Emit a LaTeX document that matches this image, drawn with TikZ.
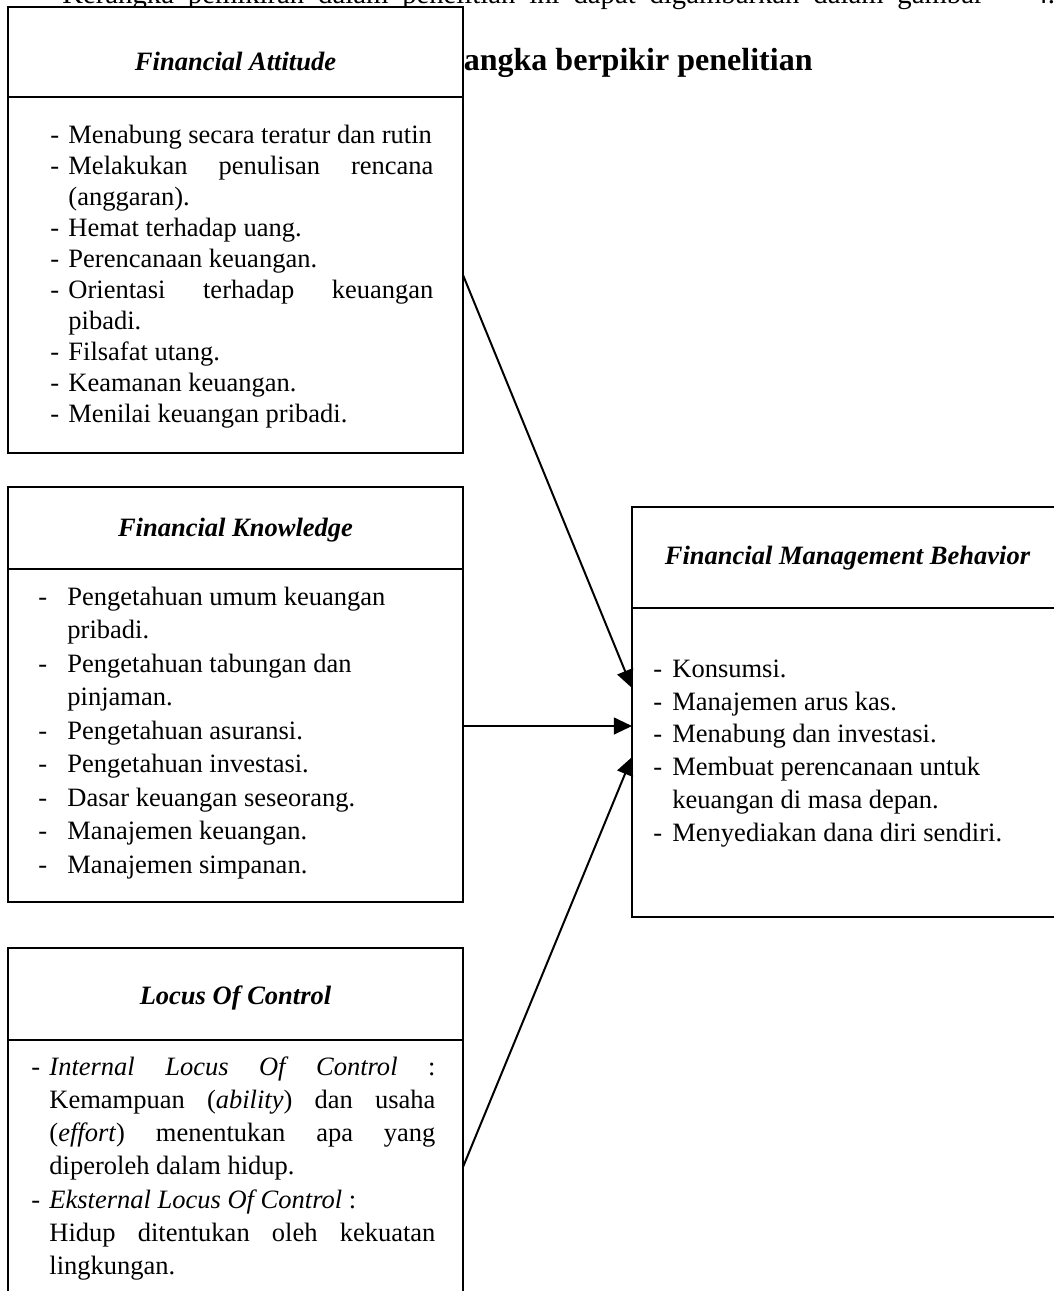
\documentclass[tikz,border=0pt]{standalone}
\usepackage{fontspec}
\setmainfont{Liberation Serif}
\usetikzlibrary{positioning}
\usetikzlibrary{arrows.meta}
\newlength{\pxu}
\setlength{\pxu}{0.4528pt}
\newcommand{\dsh}[1]{\makebox[#1][l]{-}}
\newcommand{\jl}[2]{\makebox[#1][s]{\spaceskip=0pt\xspaceskip=0pt #2}}

\begin{document}
\begin{tikzpicture}[x=\pxu, y=-\pxu,
                boxframe/.style n args={2}{draw, line width=1pt, fill=white,
                    rectangle, inner sep=0pt, outer sep=0pt,
                    minimum width=#1\pxu, minimum height=#2\pxu},
                ttl/.style={anchor=base, inner sep=0pt,
                    font=\fontsize{12}{14}\selectfont\bfseries\itshape},
                body/.style={anchor=base west, inner sep=0pt, align=left,
                    text width=420\pxu,
                    execute at begin node={\spaceskip=0pt\xspaceskip=0pt}},
                arr/.style={line width=0.9pt,
                    -{Triangle[length=8.2pt,width=7.6pt]}}]
                \useasboundingbox (0,0) rectangle (1054,1291);
                \clip (0,0) rectangle (1054,1291);
                % text of the page behind the boxes
                \node[anchor=base west, inner sep=0pt, font=\fontsize{13}{15}\selectfont] (intro) at (62,3)
                    {\makebox[921\pxu][s]{Kerangka pemikiran dalam penelitian ini dapat digambarkan dalam gambar}\hspace{50\pxu}4.};
                \node[anchor=base east, inner sep=0pt, font=\fontsize{14.5}{17}\selectfont\bfseries] (heading) at (813,70)
                    {Kerangka berpikir penelitian};
                % frames
                \node[boxframe={455}{90}] (atthead) at (235.5,52) {};
                \node[boxframe={455}{356}, below=0pt of atthead] (attbody) {};
                \node[boxframe={455}{82}] (knowhead) at (235.5,528) {};
                \node[boxframe={455}{333}, below=0pt of knowhead] (knowbody) {};
                \node[boxframe={455}{92}] (lochead) at (235.5,994) {};
                \node[boxframe={455}{360}, below=0pt of lochead] (locbody) {};
                \node[boxframe={431}{101}] (fmbhead) at (847.5,557.5) {};
                \node[boxframe={431}{309}, below=0pt of fmbhead] (fmbbody) {};
                % titles
                \node[ttl] (atttitle) at (235.5,70) {Financial Attitude};
                \node[ttl] (knowtitle) at (235.5,536) {Financial Knowledge};
                \node[ttl] (loctitle) at (235.5,1004) {Locus Of Control};
                \node[ttl] (fmbtitle) at (847.5,564) {Financial Management Behavior};
                % lists
                \node[body, font=\fontsize{12}{14.08}\selectfont] (atttext) at (50,143) {%
                    \dsh{18\pxu}Menabung secara teratur dan rutin\\
                    \dsh{18\pxu}\jl{365\pxu}{Melakukan penulisan rencana}\\
                    \hspace*{18\pxu}(anggaran).\\
                    \dsh{18\pxu}Hemat terhadap uang.\\
                    \dsh{18\pxu}Perencanaan keuangan.\\
                    \dsh{18\pxu}\jl{365\pxu}{Orientasi terhadap keuangan}\\
                    \hspace*{18\pxu}pibadi.\\
                    \dsh{18\pxu}Filsafat utang.\\
                    \dsh{18\pxu}Keamanan keuangan.\\
                    \dsh{18\pxu}Menilai keuangan pribadi.};
                \node[body, font=\fontsize{12}{15.17}\selectfont] (knowtext) at (38,605) {%
                    \dsh{29\pxu}Pengetahuan umum keuangan\\
                    \hspace*{29\pxu}pribadi.\\
                    \dsh{29\pxu}Pengetahuan tabungan dan\\
                    \hspace*{29\pxu}pinjaman.\\
                    \dsh{29\pxu}Pengetahuan asuransi.\\
                    \dsh{29\pxu}Pengetahuan investasi.\\
                    \dsh{29\pxu}Dasar keuangan seseorang.\\
                    \dsh{29\pxu}Manajemen keuangan.\\
                    \dsh{29\pxu}Manajemen simpanan.};
                \node[body, font=\fontsize{12}{15.08}\selectfont] (loctext) at (31,1075) {%
                    \dsh{18\pxu}\jl{386\pxu}{\textit{Internal Locus Of Control} :}\\
                    \hspace*{18\pxu}\jl{386\pxu}{Kemampuan (\textit{ability}) dan usaha}\\
                    \hspace*{18\pxu}\jl{386\pxu}{(\textit{effort}) menentukan apa yang}\\
                    \hspace*{18\pxu}diperoleh dalam hidup.\\
                    \dsh{18\pxu}\textit{Eksternal Locus Of Control} :\\
                    \hspace*{18\pxu}\jl{386\pxu}{Hidup ditentukan oleh kekuatan}\\
                    \hspace*{18\pxu}lingkungan.};
                \node[body, font=\fontsize{12}{14.94}\selectfont] (fmbtext) at (653,677) {%
                    \dsh{19\pxu}Konsumsi.\\
                    \dsh{19\pxu}Manajemen arus kas.\\
                    \dsh{19\pxu}Menabung dan investasi.\\
                    \dsh{19\pxu}Membuat perencanaan untuk\\
                    \hspace*{19\pxu}keuangan di masa depan.\\
                    \dsh{19\pxu}Menyediakan dana diri sendiri.};
                % arrows
                \coordinate (tipA) at (fmbbody.west |- 0,688);
                \coordinate (tipB) at (fmbbody.west |- 0,726);
                \coordinate (tipC) at (fmbbody.west |- 0,757);
                \coordinate (locout) at (locbody.east |- 0,1167);
                \draw[arr] (attbody.east) -- (tipA);
                \draw[arr] (knowbody.east |- tipB) -- (tipB);
                \draw[arr] (locout) -- (tipC);
            \end{tikzpicture}
\end{document}
